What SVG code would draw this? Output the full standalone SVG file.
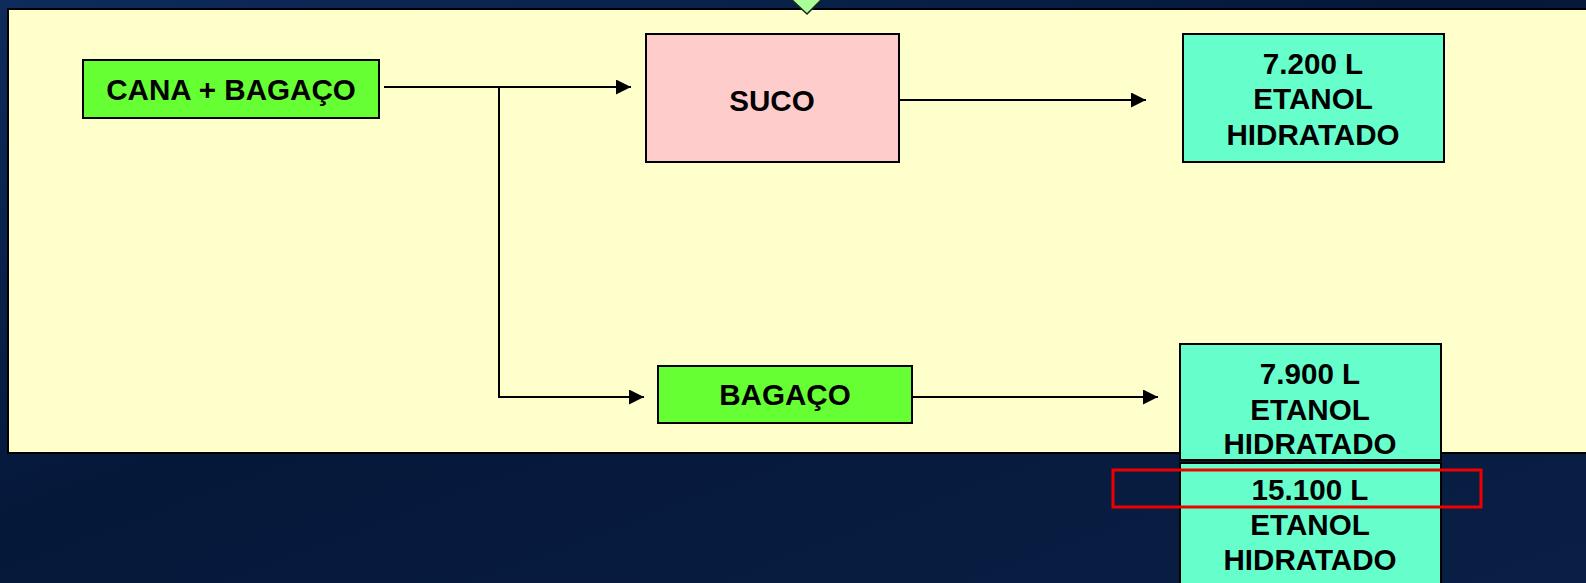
<svg xmlns="http://www.w3.org/2000/svg" width="1586" height="583" viewBox="0 0 1586 583">
  <defs>
    <linearGradient id="bg" x1="0" y1="0" x2="1" y2="1">
      <stop offset="0" stop-color="#0E2B5C"/>
      <stop offset="0.45" stop-color="#05183A"/>
      <stop offset="1" stop-color="#0A1F45"/>
    </linearGradient>
    <marker id="arrow" markerWidth="15" markerHeight="15" refX="15" refY="7.5" orient="auto" markerUnits="userSpaceOnUse">
      <path d="M0,0 L15,7.5 L0,15 Z" fill="#000"/>
    </marker>
    <style>
      .box { stroke: #000; stroke-width: 2; }
      .green { fill: #66FF33; }
      .pink { fill: #FFCCCC; }
      .teal { fill: #66FFCC; }
      .lbl { font-family: "Liberation Sans", Arial, sans-serif; font-weight: bold; font-size: 29.6px; fill: #000; text-anchor: middle; }
      .conn { fill: none; stroke: #000; stroke-width: 2; }
    </style>
  </defs>

  <!-- background -->
  <rect x="0" y="0" width="1586" height="583" fill="url(#bg)"/>

  <!-- main panel -->
  <rect x="8" y="9" width="1590" height="444" fill="#FFFFCC" stroke="#000" stroke-width="2"/>

  <!-- pointer at the top edge -->
  <polygon points="791,-1 822,-1 807,14" fill="#AAFF99" stroke="#1A2A1A" stroke-width="1.5"/>

  <!-- connectors -->
  <g id="connectors">
    <path class="conn" d="M384,87 H631" marker-end="url(#arrow)"/>
    <path class="conn" d="M499,87 V397 H644" marker-end="url(#arrow)"/>
    <path class="conn" d="M899,100 H1146" marker-end="url(#arrow)"/>
    <path class="conn" d="M912,397 H1158" marker-end="url(#arrow)"/>
  </g>

  <g id="cana-bagaco">
    <rect class="box green" x="83" y="60" width="296" height="58"/>
    <text class="lbl" x="231" y="100">CANA + BAGAÇO</text>
  </g>

  <g id="suco">
    <rect class="box pink" x="646" y="34" width="253" height="128"/>
    <text class="lbl" x="772" y="111">SUCO</text>
  </g>

  <g id="etanol-suco">
    <rect class="box teal" x="1183" y="34" width="261" height="128"/>
    <text class="lbl" x="1313" y="74">7.200 L</text>
    <text class="lbl" x="1313" y="109">ETANOL</text>
    <text class="lbl" x="1313" y="145">HIDRATADO</text>
  </g>

  <g id="bagaco">
    <rect class="box green" x="658" y="366" width="254" height="57"/>
    <text class="lbl" x="785" y="405">BAGAÇO</text>
  </g>

  <g id="etanol-bagaco">
    <rect class="box teal" x="1180" y="344" width="261" height="116"/>
    <text class="lbl" x="1310" y="384">7.900 L</text>
    <text class="lbl" x="1310" y="420">ETANOL</text>
    <text class="lbl" x="1310" y="454">HIDRATADO</text>
  </g>

  <g id="etanol-total">
    <rect class="box teal" x="1180" y="463" width="261" height="130"/>
    <text class="lbl" x="1310" y="500">15.100 L</text>
    <text class="lbl" x="1310" y="535">ETANOL</text>
    <text class="lbl" x="1310" y="570">HIDRATADO</text>
  </g>

  <!-- highlight on the total -->
  <rect x="1113" y="470" width="368" height="37" fill="none" stroke="#EE0000" stroke-width="3"/>
</svg>
